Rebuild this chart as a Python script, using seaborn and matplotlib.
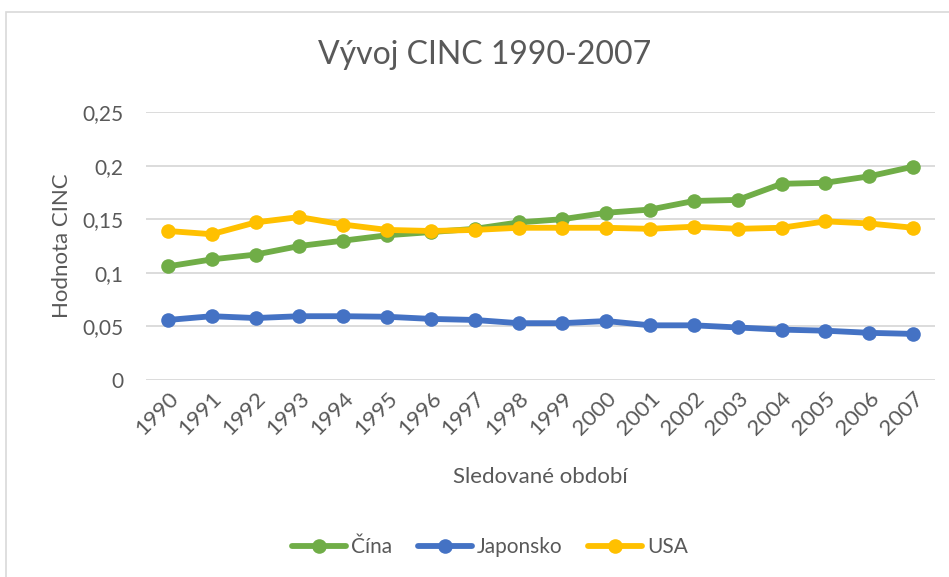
import matplotlib
matplotlib.use("Agg")
import matplotlib.pyplot as plt
import matplotlib.ticker as mticker
from matplotlib.patches import Rectangle
import seaborn as sns
import pandas as pd

years = [str(y) for y in range(1990, 2008)]
cina = [0.106, 0.1125, 0.117, 0.125, 0.130, 0.135, 0.138, 0.141, 0.147, 0.150,
        0.156, 0.159, 0.167, 0.168, 0.183, 0.184, 0.190, 0.199]
japonsko = [0.056, 0.0595, 0.0578, 0.0595, 0.0595, 0.059, 0.057, 0.056, 0.053, 0.053,
            0.055, 0.051, 0.051, 0.049, 0.047, 0.046, 0.044, 0.043]
usa = [0.139, 0.136, 0.147, 0.152, 0.145, 0.140, 0.139, 0.140, 0.142, 0.142,
       0.142, 0.141, 0.143, 0.141, 0.142, 0.148, 0.146, 0.142]
series_names = ["Čína", "Japonsko", "USA"]
yticks = [0, 0.05, 0.1, 0.15, 0.2, 0.25]

df = pd.DataFrame({
    "Rok": years * 3,
    "Hodnota": cina + japonsko + usa,
    "Stát": [series_names[0]] * 18 + [series_names[1]] * 18 + [series_names[2]] * 18,
})

sns.set_theme(style="white")
plt.rcParams["font.family"] = ["Lato", "DejaVu Sans"]
txt = "#595959"

fig = plt.figure(figsize=(9.49, 5.77), dpi=100)
ax = fig.add_axes([146 / 949, 1 - 380 / 577, (935 - 146) / 949, (380 - 112) / 577])

palette = {"Čína": "#70AD47", "Japonsko": "#4472C4", "USA": "#FFC000"}
sns.lineplot(data=df, x="Rok", y="Hodnota", hue="Stát", palette=palette,
             marker="o", markersize=10.5, markeredgewidth=0, linewidth=4.2,
             sort=False, ax=ax, legend=True)

ax.set_xlim(-0.5, 17.5)
ax.set_ylim(0, 0.25)
ax.set_yticks(yticks)
ax.yaxis.set_major_formatter(mticker.FuncFormatter(
    lambda v, p: "0" if v == 0 else ("%g" % v).replace(".", ",")))
ax.grid(axis="y", color="#D9D9D9", linewidth=1.3)
ax.set_axisbelow(True)
for s in ax.spines.values():
    s.set_visible(False)
ax.tick_params(axis="y", length=0, colors=txt, labelsize=15, pad=16)
ax.tick_params(axis="x", length=0, colors=txt, labelsize=16, pad=6)
plt.setp(ax.get_xticklabels(), rotation=45, ha="right", rotation_mode="anchor")

ax.set_xlabel("Sledované období", color=txt, fontsize=16, labelpad=20)
ax.set_ylabel("Hodnota CINC", color=txt, fontsize=16, labelpad=8)
fig.text(485 / 949, 1 - 55 / 577, "Vývoj CINC 1990-2007", color=txt,
         fontsize=23, ha="center", va="center")

handles, labels = ax.get_legend_handles_labels()
ax.legend_.remove()
leg = fig.legend(handles, labels, loc="center", bbox_to_anchor=(490 / 949, 1 - 547 / 577),
                 ncol=3, frameon=False, fontsize=15, handlelength=2.6,
                 columnspacing=1.2, handletextpad=0.25, labelcolor=txt)

fig.patches.append(Rectangle((6 / 949, -0.1), 1.2, 1 - 12 / 577 + 0.1,
                             transform=fig.transFigure, fill=False,
                             edgecolor="#D9D9D9", linewidth=1.2))

fig.savefig("out.png", dpi=100, facecolor="white")
